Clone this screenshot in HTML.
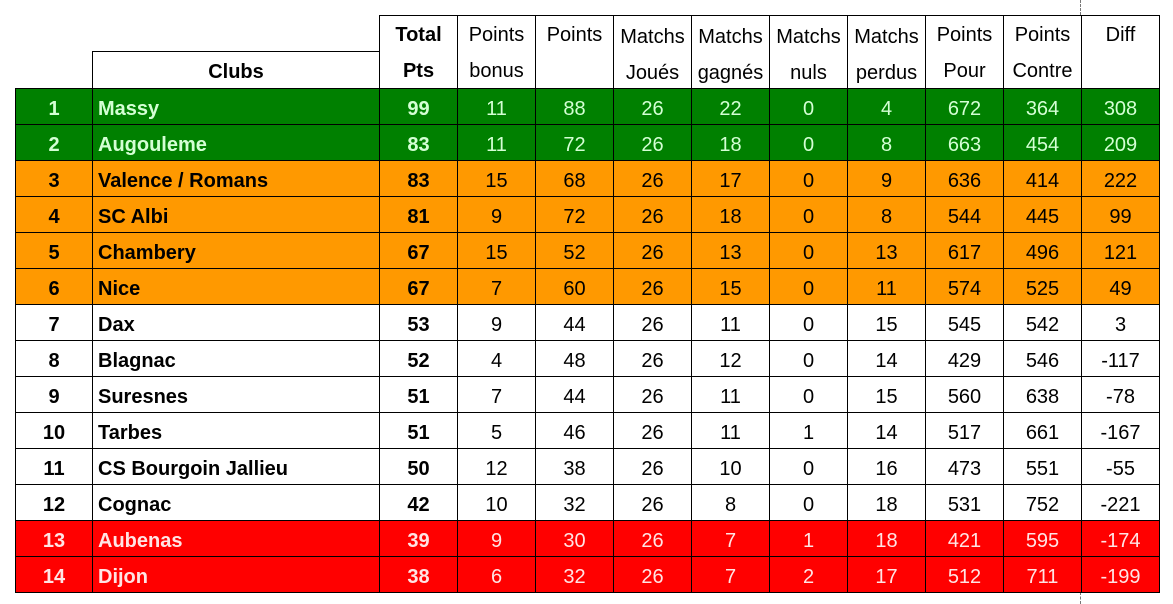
<!DOCTYPE html>
<html><head><meta charset="utf-8"><style>
body{margin:0;width:1173px;height:604px;background:#fff;position:relative;overflow:hidden;font-family:"Liberation Sans",Arial,sans-serif;}
.c{position:absolute;box-sizing:border-box;border:1px solid #000;display:flex;align-items:center;justify-content:center;font-size:20px;padding-top:5px;}
.h{position:absolute;font-size:20px;text-align:center;line-height:36px;}
</style></head><body>
<div style="position:absolute;left:1080px;top:0;height:15px;border-left:1px dashed #777"></div>
<div style="position:absolute;left:1080px;top:592px;height:12px;border-left:1px dashed #777"></div>
<div id="t"></div>
<script>
const clubs=["Massy","Augouleme","Valence / Romans","SC Albi","Chambery","Nice","Dax","Blagnac","Suresnes","Tarbes","CS Bourgoin Jallieu","Cognac","Aubenas","Dijon"];
const totalPts=[99,83,83,81,67,67,53,52,51,51,50,42,39,38];
const bonus=[11,11,15,9,15,7,9,4,7,5,12,10,9,6];
const points=[88,72,68,72,52,60,44,48,44,46,38,32,30,32];
const joues=[26,26,26,26,26,26,26,26,26,26,26,26,26,26];
const gagnes=[22,18,17,18,13,15,11,12,11,11,10,8,7,7];
const nuls=[0,0,0,0,0,0,0,0,0,1,0,0,1,2];
const perdus=[4,8,9,8,13,11,15,14,15,14,16,18,18,17];
const pour=[672,663,636,544,617,574,545,429,560,517,473,531,421,512];
const contre=[364,454,414,445,496,525,542,546,638,661,551,752,595,711];
const diff=[308,209,222,99,121,49,3,-117,-78,-167,-55,-221,-174,-199];
const headers=[["Total","Pts"],["Points","bonus"],["Points",""],["Matchs","Joués"],["Matchs","gagnés"],["Matchs","nuls"],["Matchs","perdus"],["Points","Pour"],["Points","Contre"],["Diff",""]];
const hnames=["total-pts","points-bonus","points","matchs-joues","matchs-gagnes","matchs-nuls","matchs-perdus","points-pour","points-contre","diff"];
const cols=[totalPts,bonus,points,joues,gagnes,nuls,perdus,pour,contre,diff];
const t=document.getElementById('t');
function cell(x,y,w,h,txt,bg,col,bold,align){const d=document.createElement('div');d.className='c';
d.style.cssText=`left:${x}px;top:${y}px;width:${w+1}px;height:${h+1}px;background:${bg};color:${col};font-weight:${bold?'bold':'normal'};justify-content:${align||'center'};padding-left:${align?5:0}px`;
d.textContent=txt;t.appendChild(d);return d;}
let hc=cell(92,51,287,37,"Clubs","#fff","#000",true);


for(let i=0;i<10;i++){const x=379+i*78;
 const d=cell(x,15,78,73,"","#fff","#000",i==0);
 
 
 d.style.display='block';
 d.style.paddingTop='0';
 const top=(headers[i][0]=="Matchs")?3:1;
 d.innerHTML=`<div class="h" style="position:static;line-height:36px;margin-top:${top}px">${headers[i][0]}</div><div class="h" style="position:static;line-height:36px">${headers[i][1]}</div>`;
}
for(let r=0;r<14;r++){
 const y=88+r*36;
 let bg="#fff",col="#000";
 if(r<2){bg="#008000";col="#d4ffd4";}else if(r<6){bg="#ff9900";col="#000";}else if(r>=12){bg="#ff0000";col="#ffe4e4";}
 const rk=cell(15,y,77,36,String(r+1),bg,col,true);
 
 
 const cl=cell(92,y,287,36,clubs[r],bg,col,true,'flex-start');
 
 
 for(let i=0;i<10;i++){
  const d=cell(379+i*78,y,78,36,String(cols[i][r]),bg,col,i==0);
  
  
 }
}
</script>
</body></html>
